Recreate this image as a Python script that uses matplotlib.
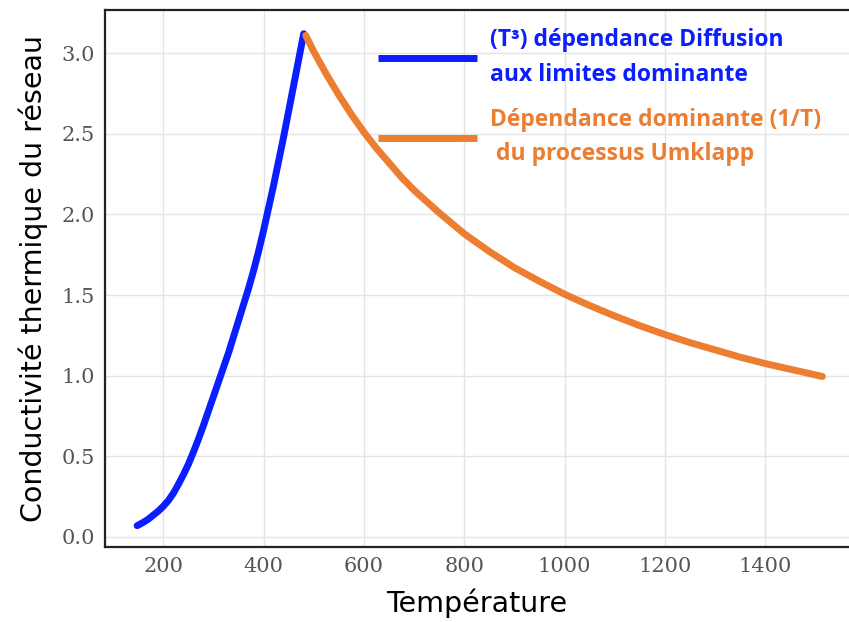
import matplotlib.pyplot as plt

# blue branch (boundary scattering, ~T^3)
t_low = [148, 160, 170, 180, 190, 200, 210, 220, 230, 240, 250, 260, 270, 280, 290,
         300, 310, 320, 330, 340, 350, 360, 370, 380, 390, 400, 410, 420, 430, 440,
         450, 460, 470, 480]
k_low = [0.07, 0.09, 0.11, 0.135, 0.16, 0.19, 0.225, 0.27, 0.325, 0.385, 0.45, 0.525, 0.605, 0.69, 0.78,
         0.87, 0.96, 1.05, 1.14, 1.24, 1.34, 1.44, 1.54, 1.65, 1.77, 1.90, 2.04, 2.18, 2.33, 2.48,
         2.64, 2.80, 2.96, 3.12]

# orange branch (Umklapp, ~1/T)
t_high = [484, 500, 525, 550, 575, 600, 625, 650, 675, 700, 750, 800, 850, 900,
          950, 1000, 1050, 1100, 1150, 1200, 1250, 1300, 1350, 1400, 1450, 1514]
k_high = [3.11, 3.01, 2.87, 2.74, 2.62, 2.51, 2.41, 2.32, 2.23, 2.15, 2.01, 1.88, 1.77, 1.67,
          1.585, 1.505, 1.435, 1.37, 1.31, 1.255, 1.205, 1.16, 1.115, 1.075, 1.04, 0.995]

lab_low = "(T³) dépendance Diffusion\naux limites dominante"
lab_high = "Dépendance dominante (1/T)\n du processus Umklapp"

blue = "#0a1eff"
orange = "#ed7d31"

fig = plt.figure(figsize=(8.49, 6.22), dpi=100)
ax = fig.add_axes([0.1237, 0.1206, 0.8763, 0.8633])

ax.plot(t_low, k_low, color=blue, lw=5, solid_capstyle="round", solid_joinstyle="round", label=lab_low)
ax.plot(t_high, k_high, color=orange, lw=5, solid_capstyle="round", solid_joinstyle="round", label=lab_high)

ax.set_xlim(84, 1567)
ax.set_ylim(-0.062, 3.267)
ax.set_xticks([200, 400, 600, 800, 1000, 1200, 1400])
ax.set_yticks([0.0, 0.5, 1.0, 1.5, 2.0, 2.5, 3.0])

ax.grid(True, color="#e4e4e4", lw=1)
ax.set_axisbelow(True)
ax.tick_params(length=0, labelsize=15, labelcolor="#555555", pad=7)
for lb in ax.get_xticklabels() + ax.get_yticklabels():
    lb.set_family("DejaVu Serif")

for s in ["left", "top", "bottom"]:
    ax.spines[s].set_linewidth(1.6)
    ax.spines[s].set_color("#222222")
ax.spines["right"].set_visible(False)

ax.set_xlabel("Température", fontsize=20.5, family="DejaVu Sans", labelpad=9)
ax.set_ylabel("Conductivité thermique du réseau", fontsize=20.5, family="DejaVu Sans", labelpad=10)

leg = ax.legend(loc="upper left", bbox_to_anchor=(0.367, 0.966), frameon=False,
                borderpad=0, borderaxespad=0,
                handlelength=4.3, handletextpad=0.57, labelspacing=0.92,
                prop={"family": "Open Sans", "weight": "bold", "size": 16.5})
for txt, c in zip(leg.get_texts(), [blue, orange]):
    txt.set_color(c)
    txt.set_linespacing(1.58)
for ln in leg.get_lines():
    ln.set_linewidth(5)
    ln.set_solid_capstyle("butt")

fig.savefig("out.png", dpi=100)
